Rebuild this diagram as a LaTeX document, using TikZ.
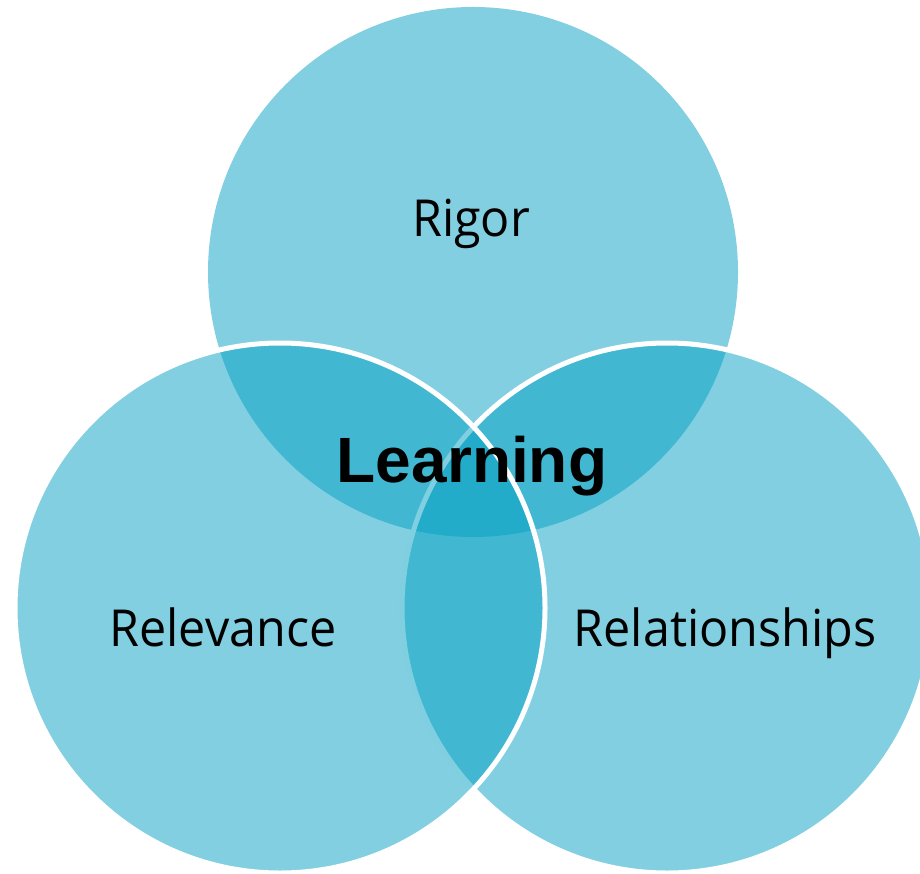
\documentclass[tikz,border=0pt]{standalone}
\usepackage{fontspec}
\setmainfont{Open Sans}
\newfontfamily\labelfont[FakeStretch=0.95]{Open Sans}
\newfontfamily\titlefont{Liberation Sans}
\definecolor{vennblue}{RGB}{3,160,194}
\begin{document}
\begin{tikzpicture}[x=1pt,y=-1pt,
  venn/.style={fill=vennblue,fill opacity=0.5,draw opacity=1},
  ring/.style={draw=white,line width=5pt},
  setlabel/.style={anchor=base,inner sep=0pt,font=\labelfont\fontsize{51}{60}\selectfont},
  centrelabel/.style={anchor=base,inner sep=0pt,font=\titlefont\bfseries\fontsize{64}{72}\selectfont}]
  \useasboundingbox (0,0) rectangle (920,874);
  \begin{scope}
    \clip (0,0) rectangle (920,874);
    % upper set, then right and left sets overlapping it
    \fill[venn] (473,272) circle[radius=265];
    \path[venn,ring] (667,608) circle[radius=265];
    \path[venn,ring] (280,608) circle[radius=265];
  \end{scope}
  \node[setlabel] (rigor) at (471,237) {Rigor};
  \node[setlabel] (relevance) at (223,646) {Relevance};
  \node[setlabel] (relationships) at (725,646) {Relationships};
  \node[centrelabel] (learning) at (472,482) {Learning};
\end{tikzpicture}
\end{document}
